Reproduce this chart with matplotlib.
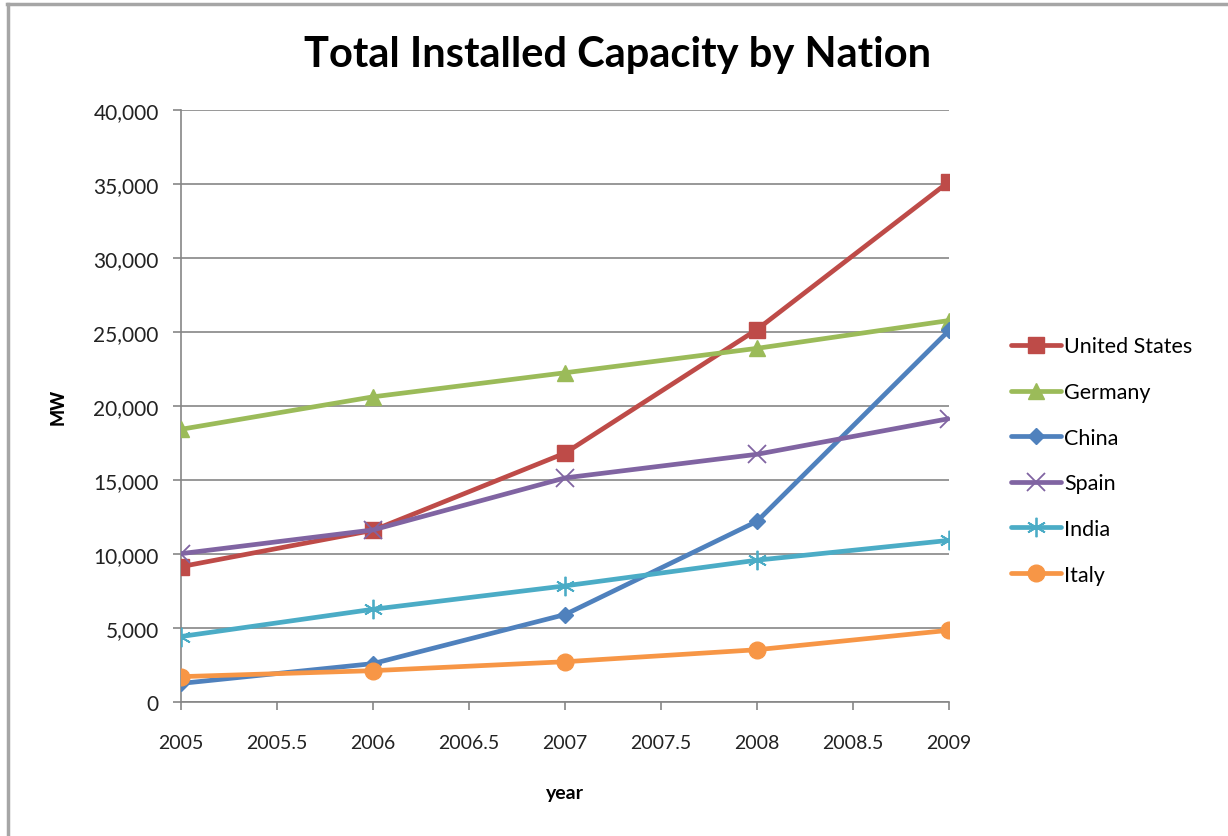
import matplotlib.pyplot as plt
from matplotlib.lines import Line2D

plt.rcParams['font.family'] = ['Lato', 'DejaVu Sans']

years = [2005, 2006, 2007, 2008, 2009]
united_states = [9149, 11603, 16819, 25170, 35159]
germany = [18428, 20622, 22247, 23897, 25777]
china = [1260, 2599, 5912, 12210, 25104]
spain = [10028, 11630, 15145, 16740, 19149]
india = [4430, 6270, 7850, 9587, 10925]
italy = [1718, 2123, 2726, 3537, 4850]

series = [
    ('United States', united_states, '#BE4B48', 's', 12),
    ('Germany', germany, '#9BBB59', '^', 12),
    ('China', china, '#4F81BD', 'D', 8.5),
    ('Spain', spain, '#8064A2', 'x', 13),
    ('India', india, '#4BACC6', (6, 2, 0), 14),
    ('Italy', italy, '#F79646', 'o', 12),
]

fig = plt.figure(figsize=(12.28, 8.37), dpi=100)
ax = fig.add_axes([0.1474, 0.160, 0.6254, 0.7074])

for name, values, color, marker, size in series:
    ax.plot(years, values, color=color, linewidth=3.4, marker=marker,
            markersize=size, markeredgewidth=1.3 if marker in ('x', (6, 2, 0)) else 1,
            markeredgecolor=color, markerfacecolor=color, label=name,
            solid_capstyle='round', zorder=3)

ax.set_xlim(2005, 2009)
ax.set_ylim(0, 40000)
ax.set_xticks([2005 + 0.5 * i for i in range(9)])
ax.set_xticklabels(['2005', '2005.5', '2006', '2006.5', '2007', '2007.5',
                    '2008', '2008.5', '2009'], fontsize=14)
ax.set_yticks(range(0, 40001, 5000))
ax.set_yticklabels([f'{v:,}' for v in range(0, 40001, 5000)], fontsize=15)
ax.yaxis.grid(True, color='#868686', linewidth=1.2)
ax.set_axisbelow(True)

for side in ('top', 'right'):
    ax.spines[side].set_visible(False)
for side in ('left', 'bottom'):
    ax.spines[side].set_color('#868686')
    ax.spines[side].set_linewidth(1.2)
ax.tick_params(axis='both', colors='#868686', labelcolor='#222222',
               length=6, width=1.2, direction='out')
ax.tick_params(axis='x', pad=17)
ax.tick_params(axis='y', pad=10)

ax.set_xlabel('year', fontsize=14, fontweight='bold', labelpad=24)
ax.set_ylabel('MW', fontsize=13, fontweight='black', labelpad=19)
fig.suptitle('Total Installed Capacity by Nation', x=0.5025, y=0.957,
             fontsize=30, fontweight='bold')

ax.legend(loc='center left', bbox_to_anchor=(1.07, 0.408), frameon=False,
          fontsize=15.5, handlelength=2.3, handletextpad=0.15,
          labelspacing=1.19, borderaxespad=0)

# chart area frame
fig.add_artist(Line2D([0.006, 1.0], [0.994, 0.994], color='#A6A6A6',
                      linewidth=2.5, transform=fig.transFigure))
fig.add_artist(Line2D([0.0065, 0.0065], [0.0, 0.994], color='#A6A6A6',
                      linewidth=2.5, transform=fig.transFigure))

fig.savefig('out.png', dpi=100, facecolor='white')
